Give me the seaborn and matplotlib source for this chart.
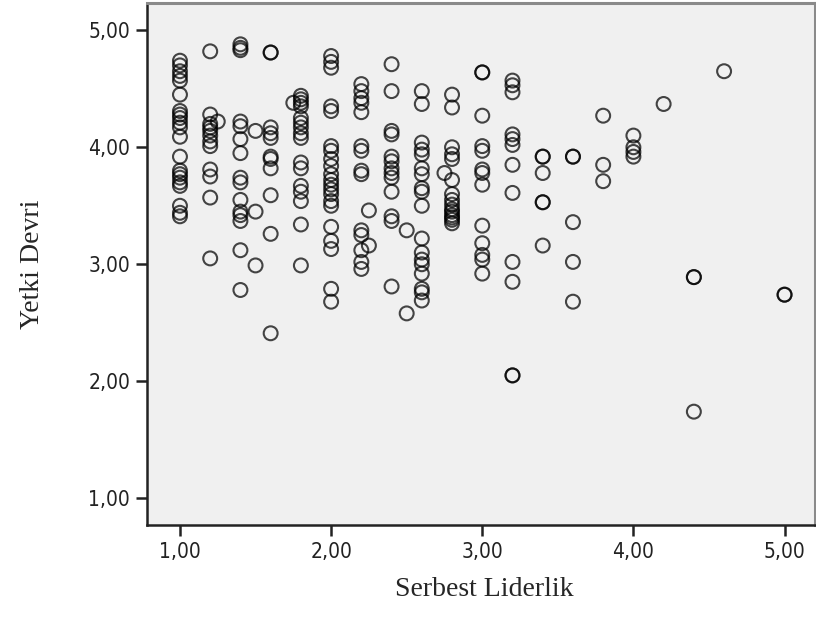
import matplotlib
matplotlib.use("Agg")
import matplotlib.pyplot as plt
from matplotlib import font_manager
import seaborn as sns
import pandas as pd

# Serbest Liderlik (x) and Yetki Devri (y)
serbest = (
    [1.0] * 21 + [1.2] * 12 + [1.25] + [1.4] * 15 + [1.5] * 3 + [1.6] * 11
    + [1.75] + [1.8] * 16 + [2.0] * 21 + [2.2] * 14 + [2.25] * 2
    + [2.4] * 13 + [2.5] * 2 + [2.6] * 18 + [2.75] + [2.8] * 15
    + [3.0] * 13 + [3.2] * 12 + [3.4] * 6 + [3.6] * 5 + [3.8] * 3
    + [4.0] * 4 + [4.2] + [4.4] * 3 + [4.6] + [5.0] * 2
)
yetki = [
    # 1.0
    4.74, 4.70, 4.65, 4.61, 4.57, 4.45, 4.31, 4.28, 4.25, 4.21, 4.17, 4.09,
    3.92, 3.80, 3.77, 3.74, 3.70, 3.67, 3.50, 3.44, 3.41,
    # 1.2
    4.82, 4.28, 4.20, 4.17, 4.14, 4.10, 4.05, 4.01, 3.81, 3.75, 3.57, 3.05,
    # 1.25
    4.22,
    # 1.4
    4.88, 4.85, 4.83, 4.22, 4.18, 4.07, 3.95, 3.74, 3.70, 3.55, 3.45, 3.42,
    3.37, 3.12, 2.78,
    # 1.5
    4.14, 3.45, 2.99,
    # 1.6
    4.81, 4.81, 4.17, 4.12, 4.08, 3.92, 3.90, 3.82, 3.59, 3.26, 2.41,
    # 1.75
    4.38,
    # 1.8
    4.44, 4.41, 4.38, 4.35, 4.25, 4.21, 4.17, 4.12, 4.08, 3.87, 3.82, 3.67,
    3.62, 3.54, 3.34, 2.99,
    # 2.0
    4.78, 4.73, 4.68, 4.35, 4.31, 4.01, 3.97, 3.90, 3.84, 3.77, 3.72, 3.68,
    3.64, 3.60, 3.54, 3.50, 3.32, 3.20, 3.13, 2.79, 2.68,
    # 2.2
    4.54, 4.48, 4.42, 4.38, 4.30, 4.01, 3.97, 3.80, 3.77, 3.29, 3.25, 3.12,
    3.02, 2.96,
    # 2.25
    3.46, 3.16,
    # 2.4
    4.71, 4.48, 4.14, 4.11, 3.92, 3.88, 3.82, 3.78, 3.74, 3.62, 3.41, 3.37,
    2.81,
    # 2.5
    3.29, 2.58,
    # 2.6
    4.48, 4.37, 4.04, 3.98, 3.94, 3.82, 3.77, 3.65, 3.62, 3.50, 3.22, 3.10,
    3.04, 3.00, 2.92, 2.79, 2.76, 2.69,
    # 2.75
    3.78,
    # 2.8
    4.45, 4.34, 4.00, 3.94, 3.90, 3.72, 3.60, 3.55, 3.51, 3.47, 3.45, 3.42,
    3.40, 3.38, 3.35,
    # 3.0
    4.64, 4.64, 4.27, 4.01, 3.97, 3.81, 3.78, 3.68, 3.33, 3.18, 3.08, 3.04,
    2.92,
    # 3.2
    4.57, 4.53, 4.47, 4.11, 4.07, 4.02, 3.85, 3.61, 3.02, 2.85, 2.05, 2.05,
    # 3.4
    3.92, 3.92, 3.78, 3.53, 3.53, 3.16,
    # 3.6
    3.92, 3.92, 3.36, 3.02, 2.68,
    # 3.8
    4.27, 3.85, 3.71,
    # 4.0
    4.10, 4.00, 3.96, 3.92,
    # 4.2
    4.37,
    # 4.4
    2.89, 2.89, 1.74,
    # 4.6
    4.65,
    # 5.0
    2.74, 2.74,
]

tick_values = [1.0, 2.0, 3.0, 4.0, 5.0]
tick_labels = ["1,00", "2,00", "3,00", "4,00", "5,00"]

df = pd.DataFrame({"Serbest Liderlik": serbest, "Yetki Devri": yetki})

sns.set_style("white", {"axes.facecolor": "#f0f0f0"})

# narrow sans for the tick labels, whichever one is installed
installed = {(f.name, f.stretch) for f in font_manager.fontManager.ttflist}
names = {n for n, _ in installed}
if "Liberation Sans Narrow" in names:
    tick_family, tick_stretch, tick_size = "Liberation Sans Narrow", "normal", 17
elif ("DejaVu Sans", "condensed") in installed:
    tick_family, tick_stretch, tick_size = "DejaVu Sans", "condensed", 15
else:
    tick_family, tick_stretch, tick_size = "Liberation Sans", "normal", 15

fig = plt.figure(figsize=(8.16, 6.36), dpi=100)
ax = fig.add_axes([0.1798, 0.1745, 0.8187, 0.820])

sns.scatterplot(data=df, x="Serbest Liderlik", y="Yetki Devri", ax=ax,
                marker="o", s=100, color="black", facecolors="none",
                edgecolor="black", linewidth=1.5, alpha=0.72)

ax.set_xlim(0.78, 5.2)
ax.set_ylim(0.771, 5.229)
ax.set_xticks(tick_values)
ax.set_xticklabels(tick_labels)
ax.set_yticks(tick_values)
ax.set_yticklabels(tick_labels)

for lab in ax.get_xticklabels() + ax.get_yticklabels():
    lab.set_family(tick_family)
    lab.set_stretch(tick_stretch)
    lab.set_fontsize(tick_size)

ax.tick_params(axis="both", direction="out", length=8, width=1.8,
               color="#222222", labelcolor="#222222", pad=4)
ax.tick_params(left=True, bottom=True)

for side in ["left", "bottom"]:
    ax.spines[side].set_color("#222222")
    ax.spines[side].set_linewidth(1.8)
for side in ["top", "right"]:
    ax.spines[side].set_color("#8a8a8a")
    ax.spines[side].set_linewidth(2.2)

ax.set_xlabel("Serbest Liderlik", family="Liberation Serif", fontsize=20)
ax.set_ylabel("Yetki Devri", family="Liberation Serif", fontsize=20)
ax.xaxis.set_label_coords(0.505, -0.100)
ax.yaxis.set_label_coords(-0.153, 0.5)

fig.savefig("out.png", dpi=100, facecolor="white")
